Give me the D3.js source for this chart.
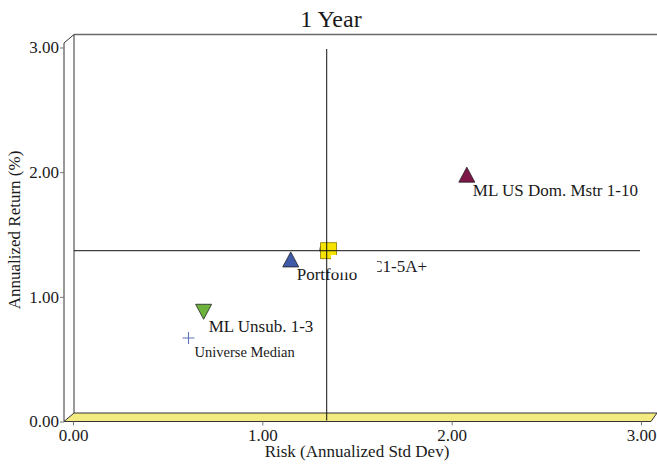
<!DOCTYPE html>
<html>
<head>
<meta charset="utf-8">
<script src="https://d3js.org/d3.v7.min.js"></script>
<style>
    body { margin: 0; background: #fff; }
    svg text { font-family: 'Liberation Serif', 'Times New Roman', serif; fill: #1a1a1a; }
</style>
</head>
<body>
<div id="chart"></div>
<script>
    // data
    var names = ["ML US Dom. Mstr 1-10", "Portfolio", "ML Unsub. 1-3", "Universe Median", "", "ML C1-5A+"];
    var risk = [2.08, 1.15, 0.69, 0.61, 1.33, 1.35];
    var ret = [1.98, 1.30, 0.88, 0.67, 1.38, 1.37];
    var crossRisk = 1.34, crossReturn = 1.37;
    var xTicks = [0, 1, 2, 3];
    var yTicks = [0, 1, 2, 3];

    // styling for each point, same order as names
    var shapes = ["up", "up", "down", "plus", "circle", "square"];
    var colors = ["#7d1747", "#3e5aa9", "#6bb33c", "#6172b9", "#7d1747", "#f6e400"];
    var labelDx = [6, 6, 5, 6, 0, 13.5];
    var labelDy = [21, 20.5, 20.5, 19, 0, 21];
    var labelSize = [17, 17, 17, 14.5, 17, 17];

    var width = 657, height = 466;
    var depth = { dx: 10, dy: -8.5 };
    var front = { left: 64, top: 43, bottom: 421.5, right: 651 };

    var x = d3.scaleLinear().domain([0, 3]).range([73, 641]);
    var y = d3.scaleLinear().domain([0, 3]).range([421.5, 47.5]);

    var svg = d3.select("#chart").append("svg")
        .attr("width", width)
        .attr("height", height);

    // floor
    svg.append("polygon")
        .attr("points", [
            [front.left, front.bottom],
            [front.left + depth.dx, front.bottom + depth.dy],
            [width, front.bottom + depth.dy],
            [front.right, front.bottom]
        ].join(" "))
        .attr("fill", "#f4ea82")
        .attr("stroke", "#333")
        .attr("stroke-width", 1);

    // walls
    var frame = svg.append("g").attr("fill", "none");
    frame.append("line")
        .attr("x1", front.left).attr("y1", front.top)
        .attr("x2", front.left).attr("y2", front.bottom)
        .attr("stroke", "#333");
    frame.append("line")
        .attr("x1", front.left + depth.dx).attr("y1", front.top + depth.dy)
        .attr("x2", front.left + depth.dx).attr("y2", front.bottom + depth.dy)
        .attr("stroke", "#333");
    frame.append("line")
        .attr("x1", front.left).attr("y1", front.top)
        .attr("x2", front.left + depth.dx).attr("y2", front.top + depth.dy)
        .attr("stroke", "#333");
    frame.append("line")
        .attr("x1", front.left + depth.dx).attr("y1", front.top + depth.dy)
        .attr("x2", width).attr("y2", front.top + depth.dy)
        .attr("stroke", "#6a6a6a")
        .attr("stroke-width", 1.6);

    // axes
    var yAxis = svg.append("g")
        .attr("transform", "translate(" + front.left + ",0)")
        .call(d3.axisLeft(y).tickValues(yTicks).tickFormat(d3.format(".2f")).tickSize(4).tickPadding(1));
    var xAxis = svg.append("g")
        .attr("transform", "translate(0," + front.bottom + ")")
        .call(d3.axisBottom(x).tickValues(xTicks).tickFormat(d3.format(".2f")).tickSize(4).tickPadding(3));
    [xAxis, yAxis].forEach(function (a) {
        a.select(".domain").remove();
        a.selectAll("line").attr("stroke", "#777");
        a.selectAll("text")
            .style("font-family", "'Liberation Serif', serif")
            .style("font-size", "17px")
            .attr("fill", "#1a1a1a");
    });

    // markers
    var pts = names.map(function (n, i) {
        return { name: n, risk: risk[i], ret: ret[i], shape: shapes[i], color: colors[i], i: i };
    });

    var markers = svg.append("g");
    pts.forEach(function (d) {
        var g = markers.append("g")
            .attr("transform", "translate(" + x(d.risk) + "," + y(d.ret) + ")");
        if (d.shape == "up") {
            g.append("path").attr("d", "M0,-7.5L8,7.5L-8,7.5Z")
                .attr("fill", d.color).attr("stroke", "#222").attr("stroke-width", 0.8);
        } else if (d.shape == "down") {
            g.append("path").attr("d", "M-8,-7.5L8,-7.5L0,7.5Z")
                .attr("fill", d.color).attr("stroke", "#222").attr("stroke-width", 0.8);
        } else if (d.shape == "square") {
            g.append("rect").attr("x", -8).attr("y", -8).attr("width", 16).attr("height", 16)
                .attr("fill", d.color).attr("stroke", "#8a7a00").attr("stroke-width", 0.8);
        } else if (d.shape == "circle") {
            g.append("circle").attr("r", 5)
                .attr("fill", d.color).attr("stroke", "#222").attr("stroke-width", 0.6);
        } else {
            g.append("path").attr("d", "M-6,0H6M0,-6V6")
                .attr("stroke", d.color).attr("stroke-width", 1.1);
        }
    });

    // cross lines
    svg.append("line")
        .attr("x1", x(crossRisk)).attr("x2", x(crossRisk))
        .attr("y1", y(3) + 1.5).attr("y2", front.bottom - 1)
        .attr("stroke", "#111");
    svg.append("line")
        .attr("x1", front.left + depth.dx).attr("x2", x(3) - 1)
        .attr("y1", y(crossReturn)).attr("y2", y(crossReturn))
        .attr("stroke", "#111");

    // labels
    pts.forEach(function (d) {
        if (!d.name) return;
        svg.append("text")
            .attr("x", x(d.risk) + labelDx[d.i])
            .attr("y", y(d.ret) + labelDy[d.i])
            .style("font-size", labelSize[d.i] + "px")
            .text(d.name);
    });

    // white label box that hides part of the text in the original
    svg.append("rect")
        .attr("x", 331).attr("y", 255)
        .attr("width", 46).attr("height", 17.5)
        .attr("fill", "#fff");

    // titles
    svg.append("text")
        .attr("x", 331).attr("y", 27)
        .attr("text-anchor", "middle")
        .style("font-size", "24px")
        .text("1 Year");

    svg.append("text")
        .attr("x", (x(0) + x(3)) / 2).attr("y", 457)
        .attr("text-anchor", "middle")
        .style("font-size", "17px")
        .text("Risk (Annualized Std Dev)");

    svg.append("text")
        .attr("transform", "translate(20,230) rotate(-90)")
        .attr("text-anchor", "middle")
        .style("font-size", "17px")
        .text("Annualized Return (%)");
</script>
</body>
</html>
